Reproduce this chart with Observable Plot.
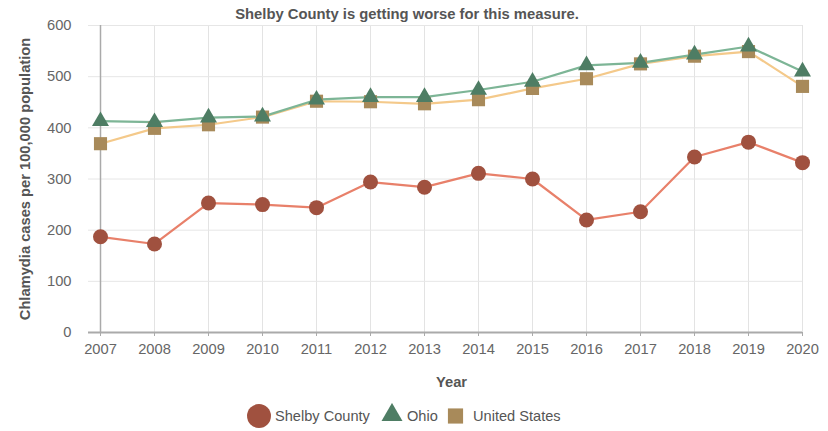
<!DOCTYPE html>
<html>
<head>
<meta charset="utf-8">
<script src="https://cdn.jsdelivr.net/npm/d3@7"></script>
<script src="https://cdn.jsdelivr.net/npm/@observablehq/plot@0.6"></script>
<style>
  html, body { margin: 0; padding: 0; background: #fff; }
  body { font-family: "Liberation Sans", Arial, sans-serif; }
  #wrap { position: relative; width: 828px; height: 431px; overflow: hidden; }
  #title { position: absolute; top: 6px; left: 0; width: 814px; text-align: center; font-weight: bold; font-size: 14.8px; color: #555; }
  #chart { position: absolute; top: 0; left: 0; }
  #legend { position: absolute; top: 403px; left: 0; width: 828px; height: 26px; font-size: 14.6px; color: #555; }
  #legend .item { position: absolute; top: 0; display: flex; align-items: center; height: 26px; }
  #legend svg { margin-right: 3px; }
</style>
</head>
<body>
<div id="wrap">
  <div id="chart"></div>
  <div id="title"></div>
  <div id="legend"></div>
</div>
<script>
const titleText = "Shelby County is getting worse for this measure.";
const yLabel = "Chlamydia cases per 100,000 population";
const xLabel = "Year";
const years = [2007, 2008, 2009, 2010, 2011, 2012, 2013, 2014, 2015, 2016, 2017, 2018, 2019, 2020];
const yTicks = [0, 100, 200, 300, 400, 500, 600];
const seriesNames = ["Shelby County", "Ohio", "United States"];
const shelby = [187, 173, 253, 250, 244, 294, 284, 311, 300, 220, 236, 343, 372, 332];
const ohio   = [413, 411, 420, 422, 455, 460, 460, 474, 490, 522, 527, 543, 559, 510];
const us     = [369, 399, 406, 421, 452, 451, 447, 455, 477, 496, 525, 540, 549, 481];
const markerColors = ["#A0513F", "#4E7D64", "#A88A5A"];
const lineColors = ["#E8806A", "#7DB596", "#F4C98A"];
const symbols = ["circle", "triangle", "square"];
const sizes = [7.5, 6.3, 7.4];

const seriesValues = [shelby, ohio, us];
const tables = seriesValues.map((vals, i) => years.map((yr, j) => ({year: yr, value: vals[j], series: seriesNames[i]})));

document.getElementById("title").textContent = titleText;

const marks = [
  Plot.ruleX(years, {y1: 0, y2: 600, stroke: "#e3e3e3", strokeWidth: 1}),
  Plot.ruleY(yTicks, {stroke: "#e6e6e6", strokeWidth: 1, insetLeft: -12}),
  Plot.ruleX([years[0]], {y1: 0, y2: 600, stroke: "#aaa", strokeWidth: 1.5}),
  Plot.ruleY([0], {stroke: "#aaa", strokeWidth: 2, insetLeft: -12}),
  Plot.axisX({ticks: years, tickFormat: "d", tickSize: 4, tickPadding: 7, fontSize: 14.7, color: "#666", stroke: "#aaa", label: xLabel, labelAnchor: "center", labelArrow: "none", labelOffset: 54}),
  Plot.axisY({ticks: yTicks, tickSize: 0, tickPadding: 29, fontSize: 14.7, color: "#666", label: yLabel, labelAnchor: "center", labelArrow: "none", labelOffset: 81})
];
const order = [2, 1, 0];
for (const i of order) {
  marks.push(Plot.line(tables[i], {x: "year", y: "value", stroke: lineColors[i], strokeWidth: 2.2}));
}
for (const i of order) {
  marks.push(Plot.dot(tables[i], {x: "year", y: "value", symbol: () => symbols[i], fill: markerColors[i], stroke: "none", r: sizes[i]}));
}

const chart = Plot.plot({
  width: 828,
  height: 400,
  marginLeft: 100,
  marginRight: 26,
  marginTop: 25,
  marginBottom: 68,
  style: {fontFamily: "'Liberation Sans', Arial, sans-serif", fontSize: "14.7px", color: "#666", background: "#fff"},
  x: {domain: [2007, 2020]},
  y: {domain: [0, 600]},
  symbol: {type: "identity"},
  marks
});
chart.querySelectorAll("[aria-label='x-axis label'] text, [aria-label='y-axis label'] text").forEach(t => {
  t.setAttribute("font-weight", "bold");
  t.setAttribute("fill", "#555");
});
document.getElementById("chart").appendChild(chart);

// Legend
const legend = document.getElementById("legend");
const legendSym = [d3.symbolCircle, d3.symbolTriangle, d3.symbolSquare];
const legendSizes = [450, 190, 230];
const legendLefts = [246, 380, 447];
const legendBoxW = [26, 24, 17];
seriesNames.forEach((name, i) => {
  const item = document.createElement("div");
  item.className = "item";
  item.style.left = legendLefts[i] + "px";
  const w = legendBoxW[i];
  const s = d3.create("svg").attr("width", w).attr("height", 26);
  s.append("path").attr("transform", `translate(${w / 2},${i === 1 ? 12 : 13})`)
    .attr("d", d3.symbol(legendSym[i], legendSizes[i])())
    .attr("fill", markerColors[i]);
  item.appendChild(s.node());
  const span = document.createElement("span");
  span.textContent = name;
  if (i === 2) span.style.marginLeft = "6px";
  item.appendChild(span);
  legend.appendChild(item);
});
</script>
</body>
</html>
